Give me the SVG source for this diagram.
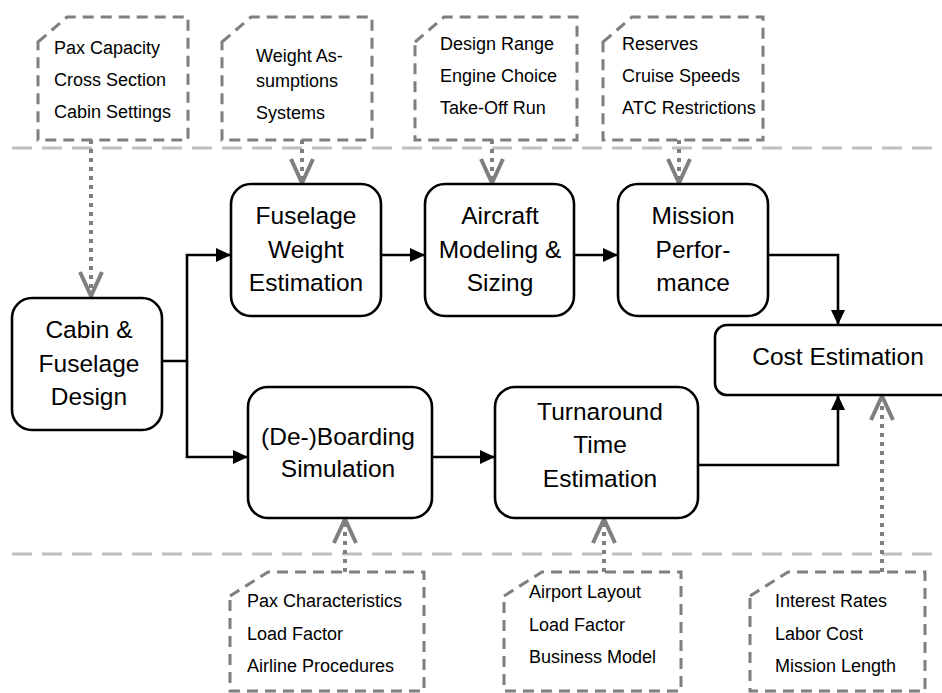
<svg xmlns="http://www.w3.org/2000/svg" width="942" height="693" viewBox="0 0 942 693">
<style>
.node{fill:#fff;stroke:#000;stroke-width:2.6}
.nt{font-family:"Liberation Sans",Arial,sans-serif;font-size:24.5px;fill:#000;text-anchor:middle}
.doc{fill:none;stroke:#7f7f7f;stroke-width:3;stroke-dasharray:11 7}
.dt{font-family:"Liberation Sans",Arial,sans-serif;font-size:18px;fill:#000}
.sep{stroke:#bfbfbf;stroke-width:3;stroke-dasharray:20 10;fill:none}
.flow{fill:none;stroke:#000;stroke-width:2.6}
.dot{fill:none;stroke:#7f7f7f;stroke-width:4;stroke-dasharray:4 5}
</style>
<defs>
<marker id="ah" markerUnits="userSpaceOnUse" markerWidth="20" markerHeight="20" refX="15" refY="7" orient="auto">
<path d="M0,0 L15,7 L0,14 Z" fill="#000"/>
</marker>
<marker id="ov" markerUnits="userSpaceOnUse" markerWidth="34" markerHeight="34" refX="28" refY="15" orient="auto">
<path d="M3,4 L27,15 L3,26" fill="none" stroke="#7f7f7f" stroke-width="4" stroke-linejoin="miter"/>
</marker>
</defs>
<rect width="942" height="693" fill="#fff"/>
<g id="separators">
<line class="sep" x1="12" y1="148" x2="942" y2="148"/>
<line class="sep" x1="12" y1="554" x2="942" y2="554"/>
</g>
<g id="connectors">
<path class="flow" d="M162,361 H187 V255 H231" marker-end="url(#ah)"/>
<path class="flow" d="M187,361 V457 H248" marker-end="url(#ah)"/>
<path class="flow" d="M381,255 H425" marker-end="url(#ah)"/>
<path class="flow" d="M574,255 H618" marker-end="url(#ah)"/>
<path class="flow" d="M768,255 H838 V325" marker-end="url(#ah)"/>
<path class="flow" d="M432,457 H495" marker-end="url(#ah)"/>
<path class="flow" d="M698,465 H838 V395" marker-end="url(#ah)"/>
<path class="dot" d="M91,140 V297" marker-end="url(#ov)"/>
<path class="dot" d="M302,140 V184" marker-end="url(#ov)"/>
<path class="dot" d="M492,140 V184" marker-end="url(#ov)"/>
<path class="dot" d="M679,140 V184" marker-end="url(#ov)"/>
<path class="dot" d="M345,572 V518" marker-end="url(#ov)"/>
<path class="dot" d="M604,572 V518" marker-end="url(#ov)"/>
<path class="dot" d="M882,572 V395" marker-end="url(#ov)"/>
</g>
<g id="in-cabin">
<path class="doc" d="M38,42 L67,17 H188 V140 H38 Z"/>
<text class="dt" x="54" y="54">Pax Capacity</text>
<text class="dt" x="54" y="86">Cross Section</text>
<text class="dt" x="54" y="118">Cabin Settings</text>
</g>
<g id="in-weight">
<path class="doc" d="M222,42 L251,17 H372 V140 H222 Z"/>
<text class="dt" x="256" y="62">Weight As-</text>
<text class="dt" x="256" y="87">sumptions</text>
<text class="dt" x="256" y="119">Systems</text>
</g>
<g id="in-aircraft">
<path class="doc" d="M415,42 L444,17 H577 V140 H415 Z"/>
<text class="dt" x="440" y="50">Design Range</text>
<text class="dt" x="440" y="82">Engine Choice</text>
<text class="dt" x="440" y="114">Take-Off Run</text>
</g>
<g id="in-mission">
<path class="doc" d="M603,42 L632,17 H763 V140 H603 Z"/>
<text class="dt" x="622" y="50">Reserves</text>
<text class="dt" x="622" y="82">Cruise Speeds</text>
<text class="dt" x="622" y="114">ATC Restrictions</text>
</g>
<g id="in-boarding">
<path class="doc" d="M230,596 L268,572 H424 V691 H230 Z"/>
<text class="dt" x="247" y="607">Pax Characteristics</text>
<text class="dt" x="247" y="640">Load Factor</text>
<text class="dt" x="247" y="672">Airline Procedures</text>
</g>
<g id="in-turnaround">
<path class="doc" d="M504,596 L542,572 H681 V691 H504 Z"/>
<text class="dt" x="529" y="598">Airport Layout</text>
<text class="dt" x="529" y="631">Load Factor</text>
<text class="dt" x="529" y="663">Business Model</text>
</g>
<g id="in-cost">
<path class="doc" d="M750,596 L788,572 H925 V691 H750 Z"/>
<text class="dt" x="775" y="607">Interest Rates</text>
<text class="dt" x="775" y="640">Labor Cost</text>
<text class="dt" x="775" y="672">Mission Length</text>
</g>
<g id="cabin">
<rect class="node" x="12" y="298" width="150" height="132" rx="20"/>
<text class="nt" x="89" y="338">Cabin &amp;</text>
<text class="nt" x="89" y="372">Fuselage</text>
<text class="nt" x="89" y="405">Design</text>
</g>
<g id="fuselage">
<rect class="node" x="231" y="184" width="150" height="132" rx="20"/>
<text class="nt" x="306" y="224">Fuselage</text>
<text class="nt" x="306" y="258">Weight</text>
<text class="nt" x="306" y="291">Estimation</text>
</g>
<g id="aircraft">
<rect class="node" x="425" y="184" width="149" height="132" rx="20"/>
<text class="nt" x="500" y="224">Aircraft</text>
<text class="nt" x="500" y="258">Modeling &amp;</text>
<text class="nt" x="500" y="291">Sizing</text>
</g>
<g id="mission">
<rect class="node" x="618" y="184" width="150" height="132" rx="20"/>
<text class="nt" x="693" y="224">Mission</text>
<text class="nt" x="693" y="258">Perfor-</text>
<text class="nt" x="693" y="291">mance</text>
</g>
<g id="cost">
<rect class="node" x="715" y="325" width="250" height="70" rx="12"/>
<text class="nt" x="838" y="365">Cost Estimation</text>
</g>
<g id="boarding">
<rect class="node" x="248" y="387" width="184" height="131" rx="20"/>
<text class="nt" x="338" y="445">(De-)Boarding</text>
<text class="nt" x="338" y="477">Simulation</text>
</g>
<g id="turnaround">
<rect class="node" x="495" y="387" width="203" height="131" rx="20"/>
<text class="nt" x="600" y="420">Turnaround</text>
<text class="nt" x="600" y="453">Time</text>
<text class="nt" x="600" y="487">Estimation</text>
</g>
</svg>
